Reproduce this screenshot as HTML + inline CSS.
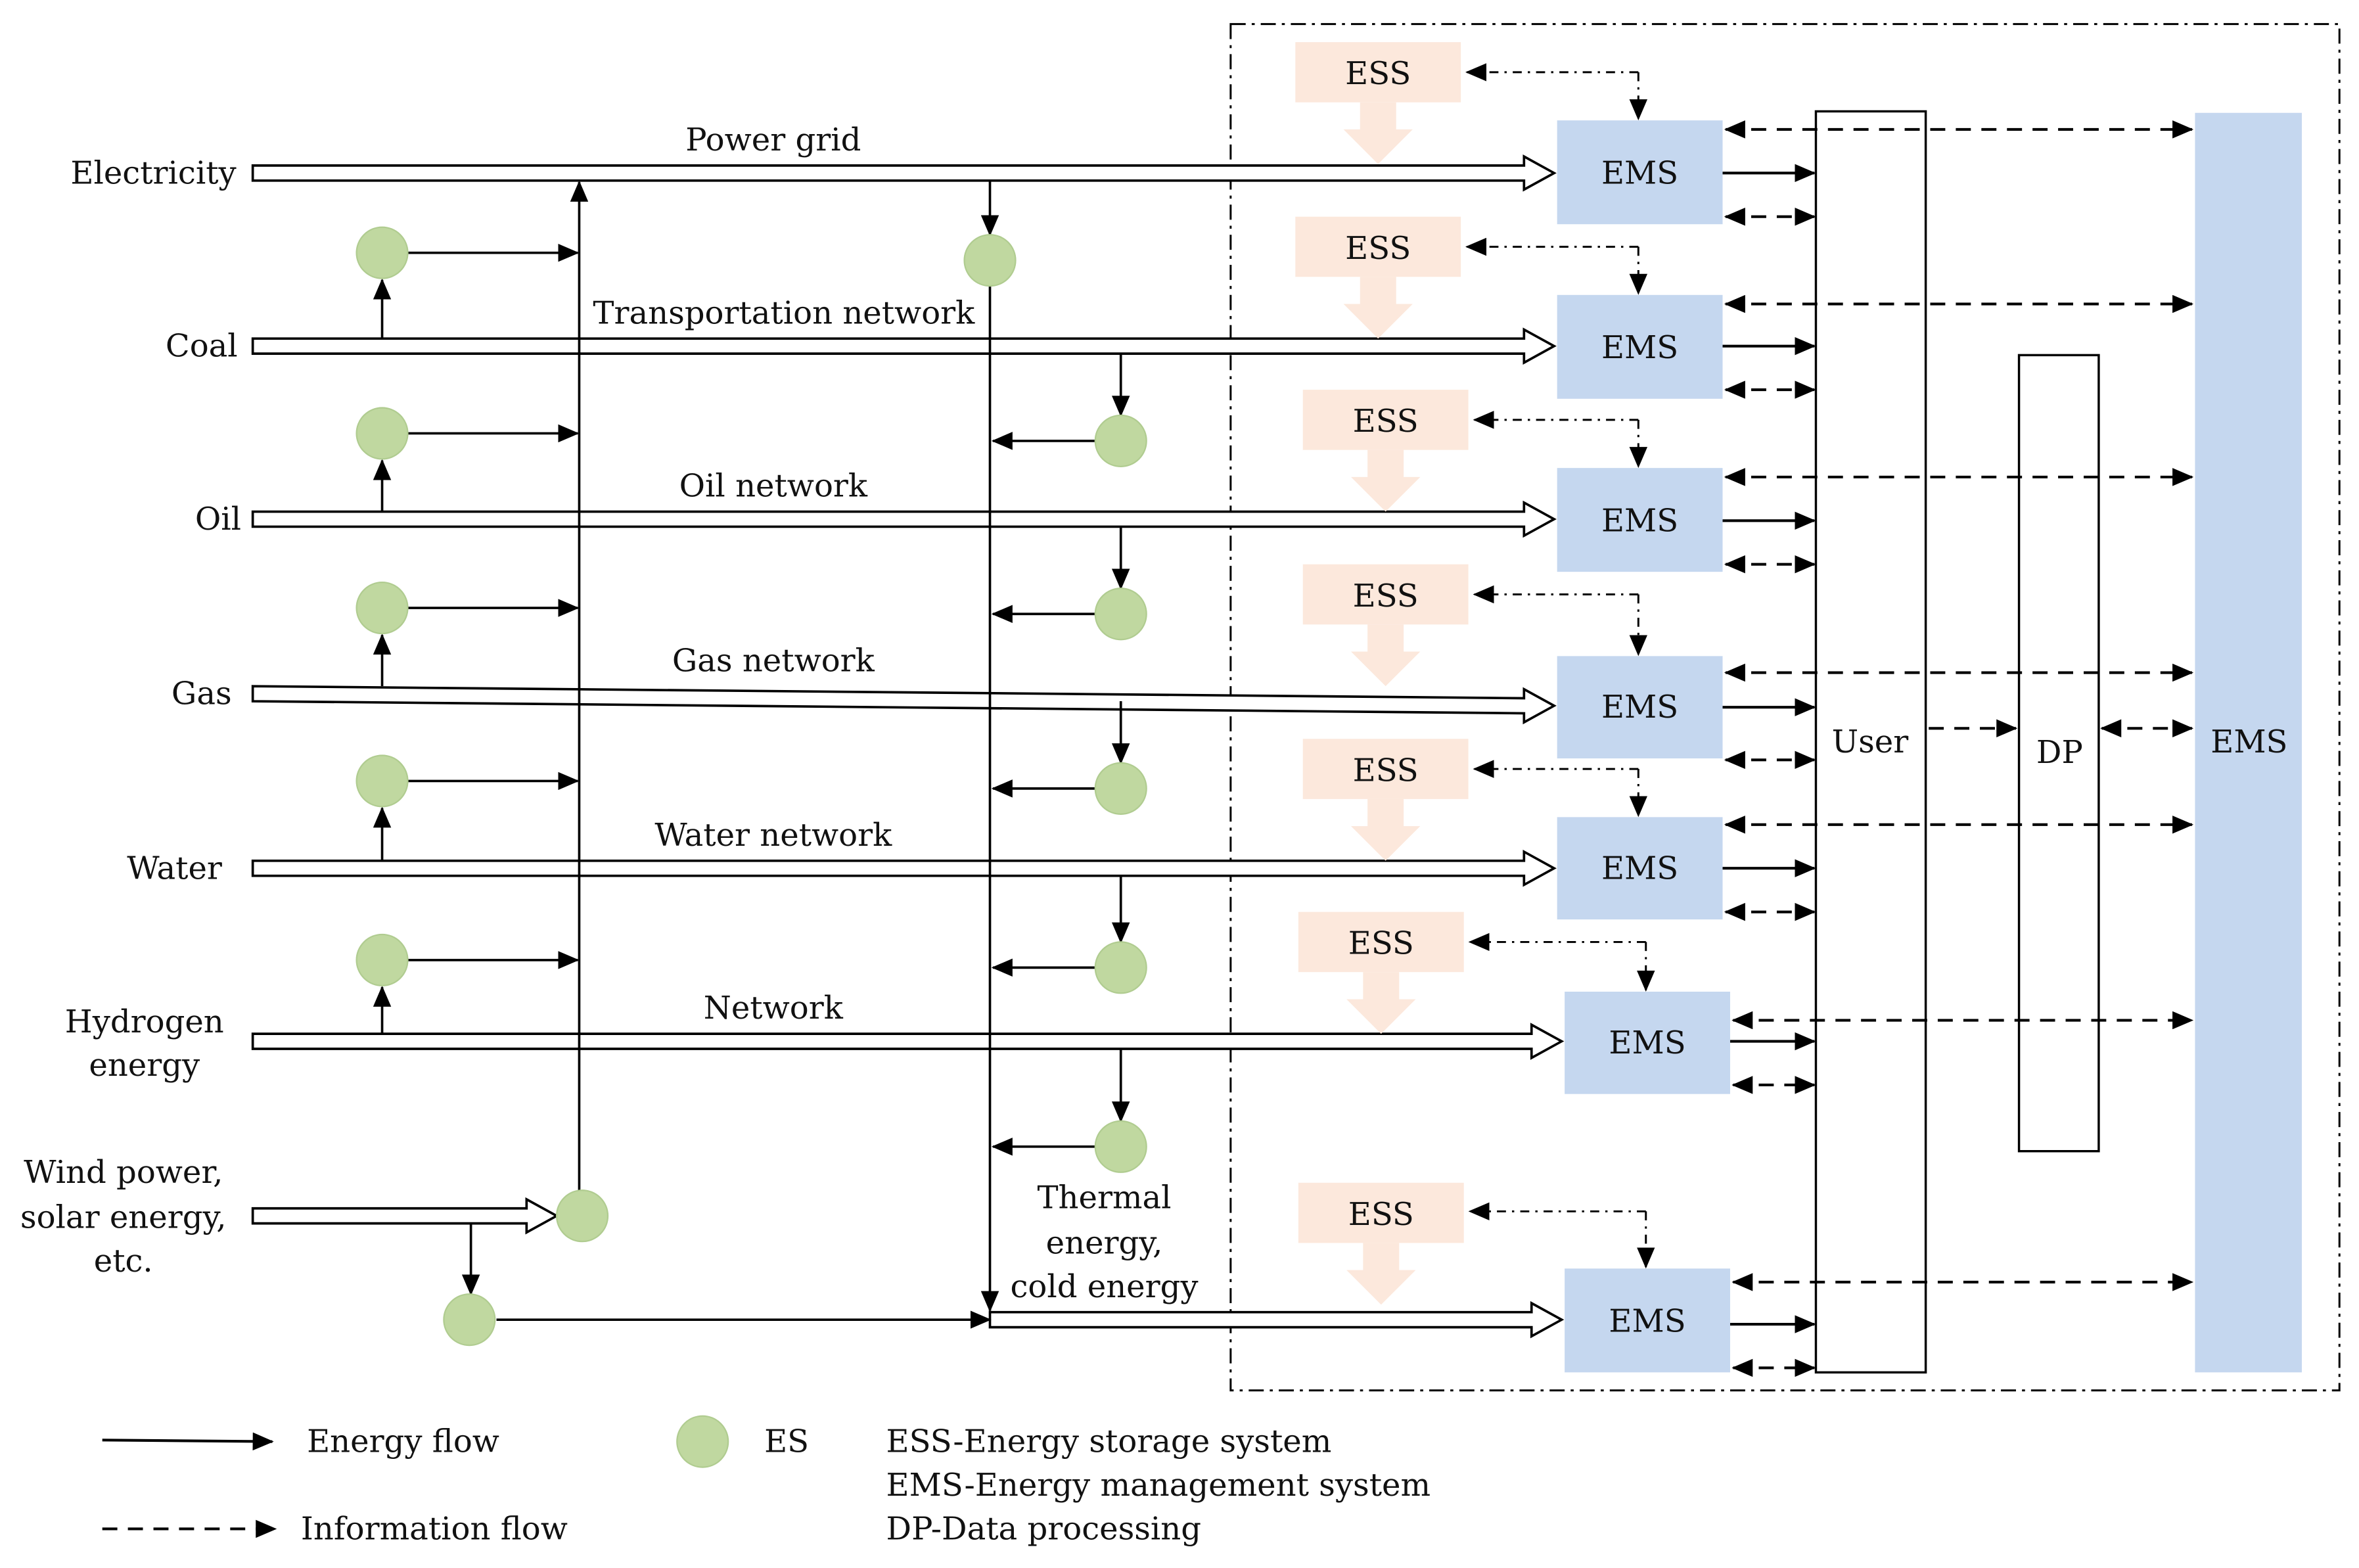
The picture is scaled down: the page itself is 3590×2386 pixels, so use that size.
<!DOCTYPE html>
<html><head><meta charset="utf-8"><style>
html,body{margin:0;padding:0;background:#fff}
svg{display:block}
text{font-family:"DejaVu Serif","Liberation Serif",serif;font-size:21px;fill:#111}
</style></head><body>
<svg width="3590" height="2386" viewBox="0 0 1568 1042" preserveAspectRatio="none" xmlns="http://www.w3.org/2000/svg">
<defs>
<marker id="a" markerUnits="userSpaceOnUse" markerWidth="14" markerHeight="12" refX="13" refY="6" orient="auto"><path d="M0,0 L14,6 L0,12 Z" fill="#000"/></marker>
<marker id="s" markerUnits="userSpaceOnUse" markerWidth="14" markerHeight="12" refX="1" refY="6" orient="auto"><path d="M14,0 L0,6 L14,12 Z" fill="#000"/></marker>
</defs>
<rect x="818" y="16" width="737" height="908" fill="none" stroke="#000" stroke-width="1.3" stroke-dasharray="10,4,2,4"/>

<g stroke="#000" stroke-width="1.6" fill="#fff">
<path d="M168,110 L1013,110 L1013,104 L1033,115 L1013,126 L1013,120 L168,120 Z"/>
<path d="M168,225 L1013,225 L1013,219 L1033,230 L1013,241 L1013,235 L168,235 Z"/>
<path d="M168,340 L1013,340 L1013,334 L1033,345 L1013,356 L1013,350 L168,350 Z"/>
<path d="M168,456 L1013,464 L1013,458 L1033,469 L1013,480 L1013,474 L168,466 Z"/>
<path d="M168,572 L1013,572 L1013,566 L1033,577 L1013,588 L1013,582 L168,582 Z"/>
<path d="M168,687 L1018,687 L1018,681 L1038,692 L1018,703 L1018,697 L168,697 Z"/>
<path d="M168,803 L350,803 L350,797 L370,808 L350,819 L350,813 L168,813 Z"/>
<path d="M658,872 L1018,872 L1018,866 L1038,877 L1018,888 L1018,882 L658,882 Z"/>
</g>

<g text-anchor="middle">
<text x="102" y="122">Electricity</text>
<text x="134" y="237">Coal</text>
<text x="145" y="352">Oil</text>
<text x="134" y="468">Gas</text>
<text x="116" y="584">Water</text>
<text x="96" y="686">Hydrogen</text>
<text x="96" y="715">energy</text>
<text x="82" y="786">Wind power,</text>
<text x="82" y="816">solar energy,</text>
<text x="82" y="845">etc.</text>
<text x="514" y="100">Power grid</text>
<text x="521" y="215">Transportation network</text>
<text x="514" y="330">Oil network</text>
<text x="514" y="446">Gas network</text>
<text x="514" y="562">Water network</text>
<text x="514" y="677">Network</text>
<text x="734" y="803">Thermal</text>
<text x="734" y="833">energy,</text>
<text x="734" y="862">cold energy</text>
</g>

<g stroke="#000" stroke-width="1.6" fill="none">
<line x1="385" y1="791" x2="385" y2="121" marker-end="url(#a)"/>
<line x1="254" y1="225" x2="254" y2="186" marker-end="url(#a)"/>
<line x1="254" y1="340" x2="254" y2="306" marker-end="url(#a)"/>
<line x1="254" y1="456" x2="254" y2="422" marker-end="url(#a)"/>
<line x1="254" y1="572" x2="254" y2="537" marker-end="url(#a)"/>
<line x1="254" y1="687" x2="254" y2="656" marker-end="url(#a)"/>
<line x1="271" y1="168" x2="384" y2="168" marker-end="url(#a)"/>
<line x1="271" y1="288" x2="384" y2="288" marker-end="url(#a)"/>
<line x1="271" y1="404" x2="384" y2="404" marker-end="url(#a)"/>
<line x1="271" y1="519" x2="384" y2="519" marker-end="url(#a)"/>
<line x1="271" y1="638" x2="384" y2="638" marker-end="url(#a)"/>
<line x1="658" y1="120" x2="658" y2="156" marker-end="url(#a)"/>
<line x1="658" y1="190" x2="658" y2="871" marker-end="url(#a)"/>
<line x1="745" y1="235" x2="745" y2="276" marker-end="url(#a)"/>
<line x1="745" y1="350" x2="745" y2="391" marker-end="url(#a)"/>
<line x1="745" y1="466" x2="745" y2="507" marker-end="url(#a)"/>
<line x1="745" y1="582" x2="745" y2="626" marker-end="url(#a)"/>
<line x1="745" y1="697" x2="745" y2="745" marker-end="url(#a)"/>
<line x1="728" y1="293" x2="660" y2="293" marker-end="url(#a)"/>
<line x1="728" y1="408" x2="660" y2="408" marker-end="url(#a)"/>
<line x1="728" y1="524" x2="660" y2="524" marker-end="url(#a)"/>
<line x1="728" y1="643" x2="660" y2="643" marker-end="url(#a)"/>
<line x1="728" y1="762" x2="660" y2="762" marker-end="url(#a)"/>
<line x1="313" y1="813" x2="313" y2="860" marker-end="url(#a)"/>
<line x1="330" y1="877" x2="658" y2="877" marker-end="url(#a)"/>
</g>

<g fill="#c0d8a0" stroke="#b0cc90" stroke-width="1">
<circle cx="254" cy="168" r="17"/><circle cx="254" cy="288" r="17"/><circle cx="254" cy="404" r="17"/>
<circle cx="254" cy="519" r="17"/><circle cx="254" cy="638" r="17"/>
<circle cx="658" cy="173" r="17"/>
<circle cx="745" cy="293" r="17"/><circle cx="745" cy="408" r="17"/><circle cx="745" cy="524" r="17"/>
<circle cx="745" cy="643" r="17"/><circle cx="745" cy="762" r="17"/>
<circle cx="387" cy="808" r="17"/><circle cx="312" cy="877" r="17"/>
<circle cx="467" cy="958" r="17"/>
</g>

<g>
<g transform="translate(0,0)"><rect x="861" y="28" width="110" height="40" fill="#fce8dc"/><path d="M904,68 L928,68 L928,86 L939,86 L916,109 L893,86 L904,86 Z" fill="#fce8dc"/><text x="916" y="56" text-anchor="middle">ESS</text></g>
<g transform="translate(0,116)"><rect x="861" y="28" width="110" height="40" fill="#fce8dc"/><path d="M904,68 L928,68 L928,86 L939,86 L916,109 L893,86 L904,86 Z" fill="#fce8dc"/><text x="916" y="56" text-anchor="middle">ESS</text></g>
<g transform="translate(5,231)"><rect x="861" y="28" width="110" height="40" fill="#fce8dc"/><path d="M904,68 L928,68 L928,86 L939,86 L916,109 L893,86 L904,86 Z" fill="#fce8dc"/><text x="916" y="56" text-anchor="middle">ESS</text></g>
<g transform="translate(5,347)"><rect x="861" y="28" width="110" height="40" fill="#fce8dc"/><path d="M904,68 L928,68 L928,86 L939,86 L916,109 L893,86 L904,86 Z" fill="#fce8dc"/><text x="916" y="56" text-anchor="middle">ESS</text></g>
<g transform="translate(5,463)"><rect x="861" y="28" width="110" height="40" fill="#fce8dc"/><path d="M904,68 L928,68 L928,86 L939,86 L916,109 L893,86 L904,86 Z" fill="#fce8dc"/><text x="916" y="56" text-anchor="middle">ESS</text></g>
<g transform="translate(2,578)"><rect x="861" y="28" width="110" height="40" fill="#fce8dc"/><path d="M904,68 L928,68 L928,86 L939,86 L916,109 L893,86 L904,86 Z" fill="#fce8dc"/><text x="916" y="56" text-anchor="middle">ESS</text></g>
<g transform="translate(2,758)"><rect x="861" y="28" width="110" height="40" fill="#fce8dc"/><path d="M904,68 L928,68 L928,86 L939,86 L916,109 L893,86 L904,86 Z" fill="#fce8dc"/><text x="916" y="56" text-anchor="middle">ESS</text></g>
</g>

<g fill="#c5d7ef">
<rect x="1035" y="80" width="110" height="69"/><rect x="1035" y="196" width="110" height="69"/>
<rect x="1035" y="311" width="110" height="69"/><rect x="1035" y="436" width="110" height="68"/>
<rect x="1035" y="543" width="110" height="68"/><rect x="1040" y="659" width="110" height="68"/>
<rect x="1040" y="843" width="110" height="69"/>
<rect x="1459" y="75" width="71" height="837"/>
</g>
<g text-anchor="middle">
<text x="1090" y="122">EMS</text><text x="1090" y="238">EMS</text><text x="1090" y="353">EMS</text>
<text x="1090" y="477">EMS</text><text x="1090" y="584">EMS</text><text x="1095" y="700">EMS</text>
<text x="1095" y="885">EMS</text><text x="1495" y="500">EMS</text>
<text x="1243" y="500">User</text><text x="1369" y="507">DP</text>
</g>
<rect x="1207" y="74" width="73" height="838" fill="none" stroke="#000" stroke-width="1.5"/>
<rect x="1342" y="236" width="53" height="529" fill="none" stroke="#000" stroke-width="1.5"/>

<g stroke="#000" stroke-width="1.3" fill="none" stroke-dasharray="6,4,1.5,4">
<path d="M1089,48 L975,48" marker-end="url(#a)"/><path d="M1089,48 L1089,79" marker-end="url(#a)"/>
<path d="M1089,164 L975,164" marker-end="url(#a)"/><path d="M1089,164 L1089,195" marker-end="url(#a)"/>
<path d="M1089,279 L980,279" marker-end="url(#a)"/><path d="M1089,279 L1089,310" marker-end="url(#a)"/>
<path d="M1089,395 L980,395" marker-end="url(#a)"/><path d="M1089,395 L1089,435" marker-end="url(#a)"/>
<path d="M1089,511 L980,511" marker-end="url(#a)"/><path d="M1089,511 L1089,542" marker-end="url(#a)"/>
<path d="M1094,626 L977,626" marker-end="url(#a)"/><path d="M1094,626 L1094,658" marker-end="url(#a)"/>
<path d="M1094,805 L977,805" marker-end="url(#a)"/><path d="M1094,805 L1094,842" marker-end="url(#a)"/>
</g>

<g stroke="#000" stroke-width="1.8" fill="none">
<line x1="1145" y1="115" x2="1206" y2="115" marker-end="url(#a)"/>
<line x1="1145" y1="230" x2="1206" y2="230" marker-end="url(#a)"/>
<line x1="1145" y1="346" x2="1206" y2="346" marker-end="url(#a)"/>
<line x1="1145" y1="470" x2="1206" y2="470" marker-end="url(#a)"/>
<line x1="1145" y1="577" x2="1206" y2="577" marker-end="url(#a)"/>
<line x1="1150" y1="692" x2="1206" y2="692" marker-end="url(#a)"/>
<line x1="1150" y1="880" x2="1206" y2="880" marker-end="url(#a)"/>
</g>
<g stroke="#000" stroke-width="1.8" fill="none" stroke-dasharray="10,7">
<line x1="1147" y1="144" x2="1206" y2="144" marker-start="url(#s)" marker-end="url(#a)"/>
<line x1="1147" y1="259" x2="1206" y2="259" marker-start="url(#s)" marker-end="url(#a)"/>
<line x1="1147" y1="375" x2="1206" y2="375" marker-start="url(#s)" marker-end="url(#a)"/>
<line x1="1147" y1="505" x2="1206" y2="505" marker-start="url(#s)" marker-end="url(#a)"/>
<line x1="1147" y1="606" x2="1206" y2="606" marker-start="url(#s)" marker-end="url(#a)"/>
<line x1="1152" y1="721" x2="1206" y2="721" marker-start="url(#s)" marker-end="url(#a)"/>
<line x1="1152" y1="909" x2="1206" y2="909" marker-start="url(#s)" marker-end="url(#a)"/>
<line x1="1147" y1="86" x2="1457" y2="86" marker-start="url(#s)" marker-end="url(#a)"/>
<line x1="1147" y1="202" x2="1457" y2="202" marker-start="url(#s)" marker-end="url(#a)"/>
<line x1="1147" y1="317" x2="1457" y2="317" marker-start="url(#s)" marker-end="url(#a)"/>
<line x1="1147" y1="447" x2="1457" y2="447" marker-start="url(#s)" marker-end="url(#a)"/>
<line x1="1147" y1="548" x2="1457" y2="548" marker-start="url(#s)" marker-end="url(#a)"/>
<line x1="1152" y1="678" x2="1457" y2="678" marker-start="url(#s)" marker-end="url(#a)"/>
<line x1="1152" y1="852" x2="1457" y2="852" marker-start="url(#s)" marker-end="url(#a)"/>
<line x1="1282" y1="484" x2="1340" y2="484" marker-end="url(#a)"/>
<line x1="1397" y1="484" x2="1457" y2="484" marker-start="url(#s)" marker-end="url(#a)"/>
<line x1="68" y1="1016" x2="183" y2="1016" marker-end="url(#a)"/>
</g>
<line x1="68" y1="957" x2="181" y2="958" stroke="#000" stroke-width="1.8" marker-end="url(#a)"/>

<text x="204" y="965">Energy flow</text>
<text x="508" y="965">ES</text>
<text x="200" y="1023">Information flow</text>
<text x="589" y="965">ESS-Energy storage system</text>
<text x="589" y="994">EMS-Energy management system</text>
<text x="589" y="1023">DP-Data processing</text>
</svg>
</body></html>
